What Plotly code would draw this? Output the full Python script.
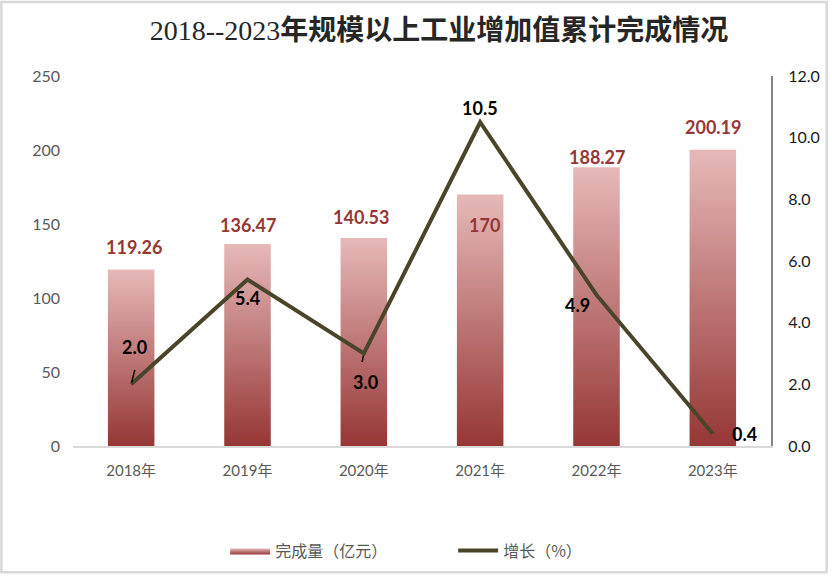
import plotly.graph_objects as go

years = ['2018年', '2019年', '2020年', '2021年', '2022年', '2023年']
output = [119.26, 136.47, 140.53, 170, 188.27, 200.19]
growth = [2.0, 5.4, 3.0, 10.5, 4.9, 0.4]
output_labels = ['119.26', '136.47', '140.53', '170', '188.27', '200.19']
growth_labels = ['2.0', '5.4', '3.0', '10.5', '4.9', '0.4']

W, H = 832, 580
L, R, T, B = 73, 57, 76, 129
bar_w = 0.4
dark_red = '#953735'
line_col = '#4a452a'
sans = 'Lato, "Noto Sans CJK SC", sans-serif'

fig = go.Figure()

# bars drawn as filled shapes so each one can carry its own vertical gradient
for i, v in enumerate(output):
    fig.add_trace(go.Scatter(
        x=[i - bar_w / 2, i - bar_w / 2, i + bar_w / 2, i + bar_w / 2, i - bar_w / 2],
        y=[0, v, v, 0, 0],
        fill='toself', mode='lines', line=dict(width=0, color=dark_red),
        fillgradient=dict(type='vertical', colorscale=[[0, dark_red], [1, '#e6b9b8']]),
        name='完成量（亿元）', legendgroup='bar', showlegend=(i == 0),
        hoverinfo='skip',
    ))

fig.add_trace(go.Scatter(
    x=list(range(len(years))), y=growth, yaxis='y2', mode='lines',
    line=dict(color=line_col, width=4), name='增长（%）',
))

# bar value labels (pixel offsets relative to bar top)
bar_shift = [23, 19, 21, -31, 10, 23]
bar_xshift = [3, 0, -3, 4, 0, 0]
for i, v in enumerate(output):
    fig.add_annotation(x=i, y=v, text='<b>%s</b>' % output_labels[i], showarrow=False,
                       yshift=bar_shift[i], xshift=bar_xshift[i],
                       font=dict(family=sans, size=18, color=dark_red))

# growth labels
g_pos = [(3, 37), (0, -18), (2, -28), (0, 14), (-19, -10), (32, 0)]
for i, v in enumerate(growth):
    dx, dy = g_pos[i]
    fig.add_annotation(x=i, y=v, yref='y2', text='<b>%s</b>' % growth_labels[i], showarrow=False,
                       xshift=dx, yshift=dy,
                       font=dict(family=sans, size=18, color='#000000'))

# small leader lines for 2.0 and 3.0
fig.add_annotation(x=0, y=growth[0], yref='y2', ax=4, ay=-16,
                   text='', showarrow=True, arrowhead=0, arrowwidth=1.5, arrowcolor='#000000',
                   standoff=2)
fig.add_annotation(x=2, y=growth[2], yref='y2', ax=-2, ay=10, text='', showarrow=True,
                   arrowhead=0, arrowwidth=1.5, arrowcolor='#000000', standoff=2)

title_text = ('<span style="font-family:\'Liberation Serif\';font-weight:normal">2018--2023</span>'
              '<b>年规模以上工业增加值累计完成情况</b>')
fig.update_layout(
    width=W, height=H,
    margin=dict(l=L, r=R, t=T, b=B),
    paper_bgcolor='white', plot_bgcolor='white',
    title=dict(text=title_text, x=439 / W, xref='container', xanchor='center',
               y=1 - 30 / H, yref='container', yanchor='middle',
               font=dict(family='"Noto Sans CJK SC", sans-serif', size=28, color='#262626')),
    xaxis=dict(range=[-0.5, 5.5], tickvals=list(range(len(years))), ticktext=years,
               showgrid=False, zeroline=False, showline=True, linecolor='#d9d9d9', linewidth=1.5,
               ticks='', ticklabelstandoff=10, tickfont=dict(family=sans, size=15, color='#595959')),
    yaxis=dict(range=[0, 250], dtick=50, showgrid=False, zeroline=False, showline=False,
               ticks='', ticklabelstandoff=12, tickfont=dict(family=sans, size=16, color='#595959')),
    yaxis2=dict(range=[0, 12], dtick=2, tickformat='.1f', overlaying='y', side='right',
                showgrid=False, zeroline=False, showline=True, linecolor='#868686', linewidth=2,
                ticks='', ticklabelstandoff=12, tickfont=dict(family=sans, size=16, color='#1a1a1a')),
    legend=dict(orientation='h', x=(226 - L) / (W - L - R), xanchor='left',
                y=-(557 - (H - B)) / (H - T - B), yanchor='middle',
                font=dict(family='"Noto Sans CJK SC", sans-serif', size=16, color='#595959'),
                itemwidth=40, entrywidthmode='pixels', entrywidth=173),
    showlegend=True,
)

# thin grey frame round the whole picture
pw, ph = W - L - R, H - T - B
fig.add_shape(type='rect', xref='paper', yref='paper',
              x0=-(L - 1) / pw, x1=(W - L - 1) / pw,
              y0=-(B - 1) / ph, y1=1 + (T - 1) / ph,
              line=dict(color='#d9d9d9', width=2.5), layer='below')

fig.write_html('out.html', config={'displayModeBar': False},
               post_script="document.body.style.margin='0';"
                           "document.body.style.overflow='hidden';"
                           "document.documentElement.style.overflow='hidden';")
